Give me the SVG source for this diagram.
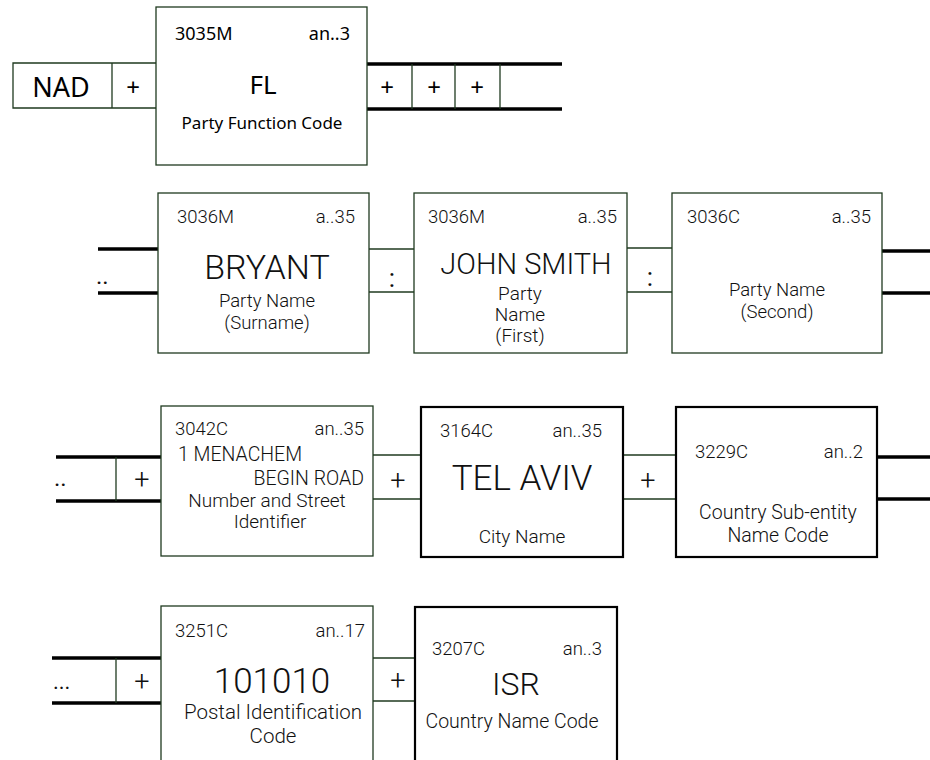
<svg xmlns="http://www.w3.org/2000/svg" width="930" height="760" viewBox="0 0 930 760">
<style>
.bx{fill:#fff;stroke:#1f3a1f;stroke-width:1.3}
.bk{fill:#fff;stroke:#000;stroke-width:2.2}
.tl{stroke:#1f3a1f;stroke-width:1.3;fill:none}
.th{stroke:#000;stroke-width:3.5;fill:none}
.c{font-family:"Noto Sans","Liberation Sans",sans-serif;fill:#000}
.j{font-family:Roboto,"Liberation Sans",sans-serif;font-weight:300;fill:#111}
.d{font-family:Roboto,"Liberation Sans",sans-serif;font-weight:400;fill:#111}
.m{text-anchor:middle}
.e{text-anchor:end}
</style>
<rect width="930" height="760" fill="#fff"/>
<g id="connectors">
  <!-- row 1 -->
  <polyline class="tl" points="156,63 13,63 13,108 156,108"/>
  <line class="tl" x1="112" y1="63" x2="112" y2="108"/>
  <text class="c m" x="133" y="96" font-size="24">+</text>
  <line class="th" x1="367" y1="64" x2="562" y2="64"/>
  <line class="th" x1="367" y1="109" x2="562" y2="109"/>
  <line class="tl" x1="412" y1="64" x2="412" y2="109"/>
  <line class="tl" x1="455" y1="64" x2="455" y2="109"/>
  <line class="tl" x1="500" y1="64" x2="500" y2="109"/>
  <text class="c m" x="387" y="96" font-size="24">+</text>
  <text class="c m" x="434" y="96" font-size="24">+</text>
  <text class="c m" x="477" y="96" font-size="24">+</text>
  <!-- row 2 -->
  <line class="th" x1="98" y1="249" x2="158" y2="249"/>
  <line class="th" x1="98" y1="293" x2="158" y2="293"/>
  <text class="d" x="96" y="284" font-size="24">..</text>
  <line class="tl" x1="369" y1="249" x2="414" y2="249"/>
  <line class="tl" x1="369" y1="292" x2="414" y2="292"/>
  <text class="d m" x="392" y="287" font-size="26">:</text>
  <line class="tl" x1="627" y1="248" x2="672" y2="248"/>
  <line class="tl" x1="627" y1="292" x2="672" y2="292"/>
  <text class="d m" x="650" y="286" font-size="26">:</text>
  <line class="th" x1="882" y1="251" x2="930" y2="251"/>
  <line class="th" x1="882" y1="293" x2="930" y2="293"/>
  <!-- row 3 -->
  <line class="th" x1="56" y1="457" x2="161" y2="457"/>
  <line class="th" x1="56" y1="501" x2="161" y2="501"/>
  <line class="tl" x1="116" y1="457" x2="116" y2="501"/>
  <text class="d" x="54" y="486" font-size="24">..</text>
  <text class="j m" x="142" y="489" font-size="27">+</text>
  <line class="tl" x1="373" y1="455" x2="421" y2="455"/>
  <line class="tl" x1="373" y1="499" x2="421" y2="499"/>
  <text class="j m" x="398" y="490" font-size="27">+</text>
  <line class="tl" x1="623" y1="455" x2="676" y2="455"/>
  <line class="tl" x1="623" y1="499" x2="676" y2="499"/>
  <text class="j m" x="648" y="490" font-size="27">+</text>
  <line class="th" x1="877" y1="457" x2="930" y2="457"/>
  <line class="th" x1="877" y1="499" x2="930" y2="499"/>
  <!-- row 4 -->
  <line class="th" x1="52" y1="658" x2="161" y2="658"/>
  <line class="th" x1="52" y1="703" x2="161" y2="703"/>
  <line class="tl" x1="116" y1="658" x2="116" y2="703"/>
  <text class="d" x="53" y="689" font-size="22">...</text>
  <text class="j m" x="142" y="691" font-size="27">+</text>
  <line class="tl" x1="373" y1="658" x2="415" y2="658"/>
  <line class="tl" x1="373" y1="701" x2="415" y2="701"/>
  <text class="j m" x="398" y="690" font-size="27">+</text>
</g>
<g id="nad">
  <text class="c m" x="61" y="97" font-size="27">NAD</text>
</g>
<g id="n3035">
  <rect class="bx" x="156" y="7" width="211" height="158"/>
  <text class="c" x="175" y="40" font-size="18">3035M</text>
  <text class="c e" x="350" y="40" font-size="18">an..3</text>
  <text class="c m" x="263" y="94" font-size="26">FL</text>
  <text class="c m" x="262" y="129" font-size="17">Party Function Code</text>
</g>
<g id="n3036a">
  <rect class="bx" x="158" y="193" width="211" height="160"/>
  <text class="j" x="177" y="223" font-size="18.5">3036M</text>
  <text class="j e" x="355" y="223" font-size="18.5">a..35</text>
  <text class="j m" x="267" y="279" font-size="34">BRYANT</text>
  <text class="j m" x="267" y="307" font-size="18.5">Party Name</text>
  <text class="j m" x="267" y="329" font-size="18.5">(Surname)</text>
</g>
<g id="n3036b">
  <rect class="bx" x="414" y="193" width="213" height="160"/>
  <text class="j" x="428" y="223" font-size="18.5">3036M</text>
  <text class="j e" x="617" y="223" font-size="18.5">a..35</text>
  <text class="j m" x="526" y="274" font-size="29">JOHN SMITH</text>
  <text class="j m" x="520" y="300" font-size="19">Party</text>
  <text class="j m" x="520" y="321" font-size="19">Name</text>
  <text class="j m" x="520" y="342" font-size="19">(First)</text>
</g>
<g id="n3036c">
  <rect class="bx" x="672" y="193" width="210" height="160"/>
  <text class="j" x="687" y="223" font-size="18.5">3036C</text>
  <text class="j e" x="871" y="223" font-size="18.5">a..35</text>
  <text class="j m" x="777" y="296" font-size="18.5">Party Name</text>
  <text class="j m" x="777" y="318" font-size="18.5">(Second)</text>
</g>
<g id="n3042">
  <rect class="bx" x="161" y="406" width="212" height="150"/>
  <text class="j" x="175" y="435" font-size="18.5">3042C</text>
  <text class="j e" x="364" y="435" font-size="18.5">an..35</text>
  <text class="j" x="178" y="461" font-size="19.5">1 MENACHEM</text>
  <text class="j e" x="364" y="485" font-size="19.5">BEGIN ROAD</text>
  <text class="j m" x="267" y="507" font-size="19">Number and Street</text>
  <text class="j m" x="270" y="528" font-size="19">Identifier</text>
</g>
<g id="n3164">
  <rect class="bk" x="421" y="407" width="202" height="150"/>
  <text class="j" x="440" y="437" font-size="18.5">3164C</text>
  <text class="j e" x="602" y="437" font-size="18.5">an..35</text>
  <text class="j m" x="522" y="490" font-size="35">TEL AVIV</text>
  <text class="j m" x="522" y="543" font-size="19">City Name</text>
</g>
<g id="n3229">
  <rect class="bk" x="676" y="407" width="201" height="150"/>
  <text class="j" x="695" y="458" font-size="18.5">3229C</text>
  <text class="j e" x="863" y="458" font-size="18.5">an..2</text>
  <text class="j m" x="778" y="519" font-size="19.5">Country Sub-entity</text>
  <text class="j m" x="778" y="542" font-size="19.5">Name Code</text>
</g>
<g id="n3251">
  <rect class="bx" x="161" y="606" width="212" height="170"/>
  <text class="j" x="175" y="637" font-size="18.5">3251C</text>
  <text class="j e" x="365" y="637" font-size="18.5">an..17</text>
  <text class="j m" x="272" y="693" font-size="35">101010</text>
  <text class="j m" x="273" y="719" font-size="20.5">Postal Identification</text>
  <text class="j m" x="273" y="743" font-size="20.5">Code</text>
</g>
<g id="n3207">
  <rect class="bk" x="415" y="607" width="202" height="170"/>
  <text class="j" x="432" y="655" font-size="18.5">3207C</text>
  <text class="j e" x="602" y="655" font-size="18.5">an..3</text>
  <text class="j m" x="516" y="695" font-size="32">ISR</text>
  <text class="j m" x="512" y="728" font-size="19.5">Country Name Code</text>
</g>
</svg>
